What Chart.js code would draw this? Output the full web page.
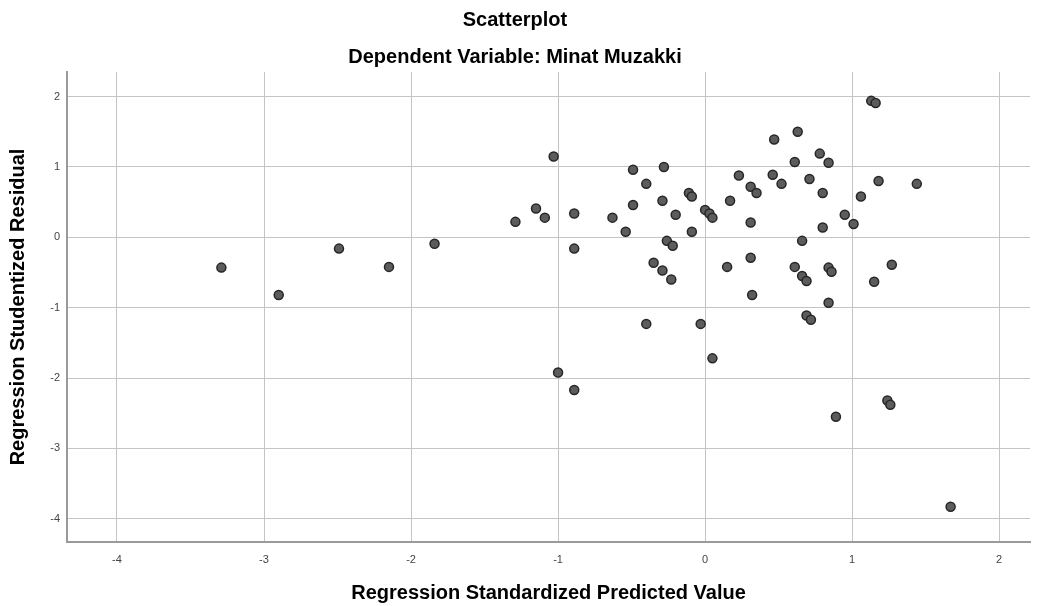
<!DOCTYPE html>
<html>
<head>
<meta charset="utf-8">
<script src="https://cdn.jsdelivr.net/npm/chart.js@4"></script>
<style>
  html, body { margin: 0; padding: 0; background: #fff; }
  .chart { width: 1041px; height: 606px; }
</style>
</head>
<body>
<div class="chart"><canvas id="c"></canvas></div>
<script>
// Regression Standardized Predicted Value (x) / Studentized Residual (y)
const predicted = [
  -3.29, -2.90, -2.49, -2.15, -1.84, -1.29, -1.15, -1.09, -1.03, -0.89,
  -0.89, -1.00, -0.89, -0.63, -0.54, -0.49, -0.49, -0.40, -0.40, -0.35,
  -0.29, -0.28, -0.29, -0.26, -0.22, -0.23, -0.20, -0.11, -0.09, -0.09,
  -0.03, 0.00, 0.03, 0.05, 0.05, 0.17, 0.15, 0.23, 0.31, 0.35,
  0.31, 0.31, 0.32, 0.47, 0.46, 0.52, 0.63, 0.61, 0.71, 0.78,
  0.84, 0.80, 0.66, 0.80, 0.61, 0.66, 0.69, 0.84, 0.86, 0.84,
  0.69, 0.72, 0.95, 1.01, 1.06, 1.13, 1.16, 1.18, 1.44, 1.27,
  1.15, 1.24, 1.26, 0.89, 1.67
];
const residual = [
  -0.43, -0.82, -0.16, -0.42, -0.09, 0.22, 0.41, 0.28, 1.15, 0.34,
  -0.16, -1.92, -2.17, 0.28, 0.08, 0.96, 0.46, 0.76, -1.23, -0.36,
  0.52, 1.00, -0.47, -0.05, -0.12, -0.60, 0.32, 0.63, 0.58, 0.08,
  -1.23, 0.39, 0.34, 0.28, -1.72, 0.52, -0.42, 0.88, 0.72, 0.63,
  0.21, -0.29, -0.82, 1.39, 0.89, 0.76, 1.50, 1.07, 0.83, 1.19,
  1.06, 0.63, -0.05, 0.14, -0.42, -0.55, -0.62, -0.43, -0.49, -0.93,
  -1.11, -1.17, 0.32, 0.19, 0.58, 1.94, 1.91, 0.80, 0.76, -0.39,
  -0.63, -2.32, -2.38, -2.55, -3.83
];
const xTicks = [-4, -3, -2, -1, 0, 1, 2];
const yTicks = [-4, -3, -2, -1, 0, 1, 2];

const points = predicted.map((x, i) => ({ x, y: residual[i] }));
const FONT = "'Liberation Sans', Arial, sans-serif";
Chart.defaults.font.family = FONT;
Chart.defaults.color = '#000';

new Chart(document.getElementById('c'), {
  type: 'scatter',
  data: {
    datasets: [{
      data: points,
      backgroundColor: '#5c5c5c',
      borderColor: '#262626',
      borderWidth: 1.5,
      pointRadius: 4.5,
      pointHoverRadius: 4.5
    }]
  },
  options: {
    responsive: true,
    maintainAspectRatio: false,
    animation: false,
    layout: { padding: { right: 11 } },
    plugins: {
      legend: { display: false },
      tooltip: { enabled: false },
      title: {
        display: true,
        text: 'Scatterplot',
        font: { size: 20, weight: 'bold' },
        padding: { top: 8, bottom: 6 }
      },
      subtitle: {
        display: true,
        text: 'Dependent Variable: Minat Muzakki',
        color: '#000',
        font: { size: 20, weight: 'bold', family: FONT },
        padding: { top: 7, bottom: 3 }
      }
    },
    scales: {
      x: {
        type: 'linear',
        min: -4.34,
        max: 2.21,
        afterBuildTicks: s => { s.ticks = xTicks.map(v => ({ value: v })); },
        afterFit: s => { s.height = 64; },
        grid: { color: '#c4c4c4', lineWidth: 1, drawTicks: false },
        border: { color: '#9a9a9a', width: 2 },
        ticks: { color: '#444', font: { size: 11 }, padding: 11 },
        title: {
          display: true,
          text: 'Regression Standardized Predicted Value',
          font: { size: 20, weight: 'bold' },
          padding: { top: 0, bottom: 1 }
        }
      },
      y: {
        type: 'linear',
        min: -4.33,
        max: 2.35,
        afterBuildTicks: s => { s.ticks = yTicks.map(v => ({ value: v })); },
        afterFit: s => { s.width = 67; },
        grid: { color: '#c4c4c4', lineWidth: 1, drawTicks: false },
        border: { color: '#9a9a9a', width: 2 },
        ticks: { color: '#444', font: { size: 11 }, padding: 7 },
        title: {
          display: true,
          text: 'Regression Studentized Residual',
          font: { size: 20, weight: 'bold' },
          padding: { top: 6, bottom: 0 }
        }
      }
    }
  }
});
</script>
</body>
</html>
